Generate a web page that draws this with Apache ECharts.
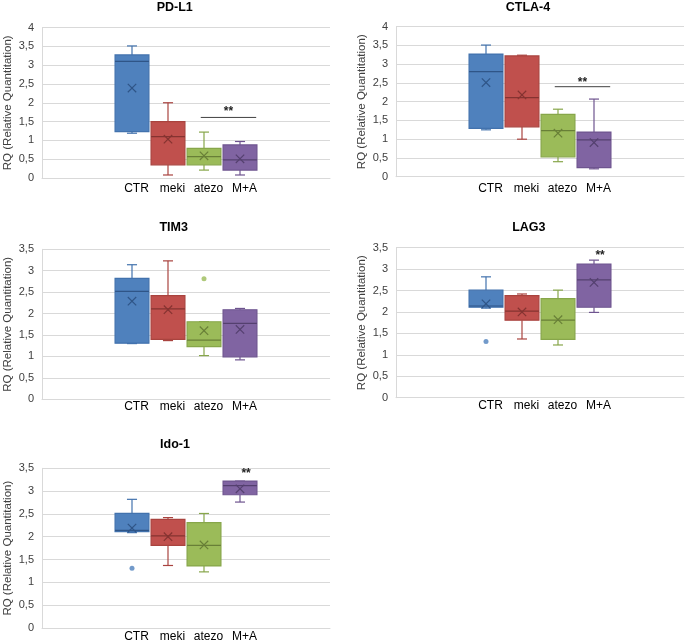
<!DOCTYPE html>
<html><head><meta charset="utf-8">
<script src="https://cdn.jsdelivr.net/npm/echarts@6/dist/echarts.min.js"></script>
<style>html,body{margin:0;padding:0;background:#fff}#c{width:685px;height:643px}</style>
</head><body><div id="c"></div>
<script>
// ---------- data ----------
const categories = ['CTR', 'meki', 'atezo', 'M+A'];
const panelTitles = ['PD-L1', 'CTLA-4', 'TIM3', 'LAG3', 'Ido-1'];
const yMaxes = [4, 4, 3.5, 3.5, 3.5];
const yAxisName = 'RQ (Relative Quantitation)';

// PD-L1
const pdl1Min  = [1.19, 0.08, 0.21, 0.08];
const pdl1Q1   = [1.23, 0.35, 0.35, 0.21];
const pdl1Med  = [3.10, 1.10, 0.57, 0.48];
const pdl1Q3   = [3.27, 1.50, 0.79, 0.88];
const pdl1Max  = [3.51, 2.00, 1.22, 0.97];
const pdl1Mean = [2.39, 1.03, 0.59, 0.51];
// CTLA-4
const ctla4Min  = [1.25, 1.00, 0.40, 0.21];
const ctla4Q1   = [1.29, 1.33, 0.53, 0.24];
const ctla4Med  = [2.80, 2.11, 1.23, 0.98];
const ctla4Q3   = [3.27, 3.22, 1.66, 1.19];
const ctla4Max  = [3.51, 3.24, 1.80, 2.07];
const ctla4Mean = [2.51, 2.18, 1.16, 0.91];
// TIM3
const tim3Min  = [1.30, 1.37, 1.02, 0.92];
const tim3Q1   = [1.31, 1.40, 1.23, 0.99];
const tim3Med  = [2.52, 2.11, 1.38, 1.77];
const tim3Q3   = [2.82, 2.42, 1.81, 2.09];
const tim3Max  = [3.14, 3.23, 1.81, 2.12];
const tim3Mean = [2.29, 2.09, 1.60, 1.63];
// LAG3
const lag3Min  = [2.09, 1.37, 1.23, 1.99];
const lag3Q1   = [2.11, 1.81, 1.36, 2.11];
const lag3Med  = [2.14, 2.02, 1.81, 2.75];
const lag3Q3   = [2.51, 2.38, 2.31, 3.12];
const lag3Max  = [2.82, 2.42, 2.51, 3.21];
const lag3Mean = [2.19, 2.00, 1.82, 2.69];
// Ido-1
const ido1Min  = [2.09, 1.37, 1.23, 2.76];
const ido1Q1   = [2.11, 1.81, 1.36, 2.92];
const ido1Med  = [2.14, 2.02, 1.81, 3.12];
const ido1Q3   = [2.51, 2.38, 2.31, 3.22];
const ido1Max  = [2.82, 2.42, 2.51, 3.22];
const ido1Mean = [2.19, 2.00, 1.82, 3.05];

// outliers: [category, value] per panel
const outliers = [[], [], [['atezo', 2.81]], [['CTR', 1.31]], [['CTR', 1.31]]];
// significance: bracket line level (atezo..M+A) and "**" level
const sigLineY = [1.61, 2.40, null, null, null];
const sigStarY = [1.84, 2.60, null, 3.38, 3.45];

const panels = [
  [pdl1Min, pdl1Q1, pdl1Med, pdl1Q3, pdl1Max, pdl1Mean],
  [ctla4Min, ctla4Q1, ctla4Med, ctla4Q3, ctla4Max, ctla4Mean],
  [tim3Min, tim3Q1, tim3Med, tim3Q3, tim3Max, tim3Mean],
  [lag3Min, lag3Q1, lag3Med, lag3Q3, lag3Max, lag3Mean],
  [ido1Min, ido1Q1, ido1Med, ido1Q3, ido1Max, ido1Mean]
];

// ---------- styling / layout ----------
const palette = [
  { fill: '#4F81BD', line: '#4272AD', dark: '#2F5587' },
  { fill: '#C0504D', line: '#A9433F', dark: '#853331' },
  { fill: '#9BBB59', line: '#87A64A', dark: '#687F37' },
  { fill: '#8064A2', line: '#6E548F', dark: '#54406F' }
];
const LEAD = 2; // empty slots before the groups
const slotLabels = Array(LEAD).fill('').concat(categories, ['', '']);
const grids = [
  { left: 42, top: 27.5, width: 288, height: 150.5 },
  { left: 396, top: 26.7, width: 288, height: 150 },
  { left: 42, top: 249.3, width: 288, height: 150 },
  { left: 396, top: 247.7, width: 288, height: 150 },
  { left: 42, top: 468.3, width: 288, height: 160 }
];
const labelMargins = [5, 5.5, 1.5, 2, 3];
const titlePos = [[174.7, 1], [528, 1], [173.7, 221], [528.8, 221], [175, 438.5]];
const FONT = '"Liberation Sans", Arial, sans-serif';
const GRID_C = '#D9D9D9';

function renderBox(params, api) {
  const x = api.value(0);
  const band = api.size([1, 0])[0];
  const bw = band * 0.94, cw = band * 0.28, xs = 4.2;
  const pMin = api.coord([x, api.value(1)]);
  const pQ1 = api.coord([x, api.value(2)]);
  const pMed = api.coord([x, api.value(3)]);
  const pQ3 = api.coord([x, api.value(4)]);
  const pMax = api.coord([x, api.value(5)]);
  const pMean = api.coord([x, api.value(6)]);
  const c = palette[params.dataIndex % 4];
  const cx = pMin[0];
  const ln = (x1, y1, x2, y2, col) => ({ type: 'line', shape: { x1, y1, x2, y2 }, style: { stroke: col, lineWidth: 1.2 } });
  return {
    type: 'group', children: [
      ln(cx, pMax[1], cx, pQ3[1], c.line),
      ln(cx - cw / 2, pMax[1], cx + cw / 2, pMax[1], c.line),
      ln(cx, pQ1[1], cx, pMin[1], c.line),
      ln(cx - cw / 2, pMin[1], cx + cw / 2, pMin[1], c.line),
      { type: 'rect', shape: { x: cx - bw / 2, y: pQ3[1], width: bw, height: pQ1[1] - pQ3[1] },
        style: { fill: c.fill, stroke: c.line, lineWidth: 1.2 } },
      ln(cx - bw / 2, pMed[1], cx + bw / 2, pMed[1], c.dark),
      ln(cx - xs, pMean[1] - xs, cx + xs, pMean[1] + xs, c.dark),
      ln(cx - xs, pMean[1] + xs, cx + xs, pMean[1] - xs, c.dark)
    ]
  };
}

function renderSig(params, api) {
  const band = api.size([1, 0])[0];
  const x1 = api.value(0), x2 = api.value(1), ly = api.value(2), sy = api.value(3);
  const children = [];
  if (!isNaN(ly) && ly !== null) {
    const a = api.coord([x1, ly]);
    const b = api.coord([x2, ly]);
    const xa = a[0] - band * 0.09, xb = b[0] + band * 0.45;
    children.push({ type: 'line', shape: { x1: xa, y1: a[1], x2: xb, y2: b[1] }, style: { stroke: '#404040', lineWidth: 1 } });
    const s = api.coord([x2, sy]);
    children.push({ type: 'text', style: { text: '**', x: (xa + xb) / 2, y: s[1] + 3, align: 'center', verticalAlign: 'middle', font: 'bold 12px ' + FONT, fill: '#222' } });
  } else {
    const s = api.coord([x2, sy]);
    children.push({ type: 'text', style: { text: '**', x: s[0] + band * 0.17, y: s[1] + 3, align: 'center', verticalAlign: 'middle', font: 'bold 12px ' + FONT, fill: '#222' } });
  }
  return { type: 'group', children };
}

const option = {
  animation: false,
  backgroundColor: '#fff',
  grid: grids.map(g => Object.assign({ containLabel: false }, g)),
  graphic: panelTitles.map((t, i) => ({
    type: 'text', x: titlePos[i][0], y: titlePos[i][1],
    style: { text: t, align: 'center', verticalAlign: 'top', font: 'bold 12.5px ' + FONT, fill: '#000' }
  })),
  xAxis: grids.map((g, i) => ({
    type: 'category', gridIndex: i, data: slotLabels,
    axisLine: { show: true, lineStyle: { color: GRID_C } },
    axisTick: { show: false },
    axisLabel: { interval: 0, fontFamily: FONT, fontSize: 12, color: '#000', margin: labelMargins[i], padding: [0, 0, 0, 9] },
    splitLine: { show: false }
  })),
  yAxis: grids.map((g, i) => ({
    type: 'value', gridIndex: i, min: 0, max: yMaxes[i], interval: 0.5,
    name: yAxisName, nameLocation: 'middle', nameRotate: 90, nameGap: 28,
    nameTextStyle: { fontFamily: FONT, fontSize: 11.5, color: '#404040' },
    axisLine: { show: true, lineStyle: { color: GRID_C } },
    axisTick: { show: false },
    axisLabel: { fontFamily: FONT, fontSize: 11, color: '#404040', margin: 8, formatter: v => String(v).replace('.', ',') },
    splitLine: { show: true, lineStyle: { color: GRID_C, width: 1 } }
  })),
  series: []
};

panels.forEach((p, i) => {
  option.series.push({
    type: 'custom', xAxisIndex: i, yAxisIndex: i, renderItem: renderBox,
    encode: { x: 0, y: [1, 2, 3, 4, 5, 6] },
    data: categories.map((c, k) => [LEAD + k, p[0][k], p[1][k], p[2][k], p[3][k], p[4][k], p[5][k]]),
    z: 3
  });
  if (outliers[i].length) {
    option.series.push({
      type: 'scatter', xAxisIndex: i, yAxisIndex: i, symbol: 'circle', symbolSize: 5,
      data: outliers[i].map(o => ({ value: [LEAD + categories.indexOf(o[0]), o[1]], itemStyle: { color: palette[categories.indexOf(o[0])].fill } })),
      z: 4
    });
  }
  if (sigStarY[i] !== null) {
    option.series.push({
      type: 'custom', xAxisIndex: i, yAxisIndex: i, renderItem: renderSig,
      data: [[LEAD + 2, LEAD + 3, sigLineY[i] === null ? NaN : sigLineY[i], sigStarY[i]]],
      z: 5
    });
  }
});

const chart = echarts.init(document.getElementById('c'), null, { renderer: 'canvas' });
chart.setOption(option);
</script>
</body></html>
